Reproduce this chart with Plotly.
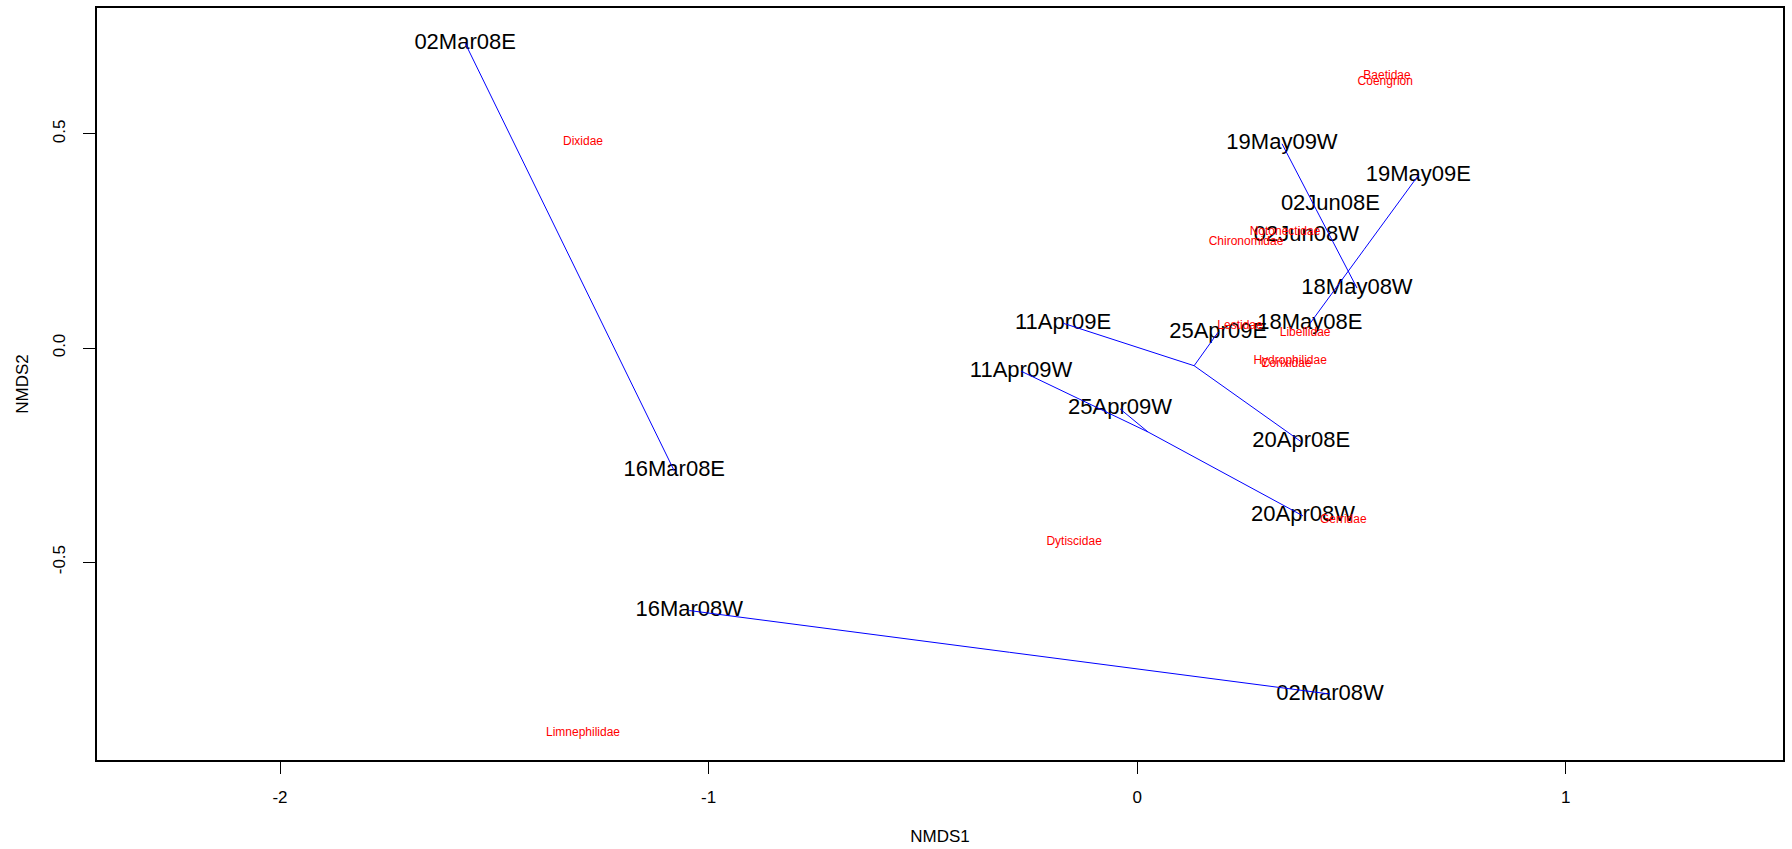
import plotly.graph_objects as go

# NMDS site scores (sampling dates, E/W sites)
site_names = ["02Mar08E", "16Mar08E", "16Mar08W", "02Mar08W",
              "11Apr09E", "25Apr09E", "20Apr08E",
              "11Apr09W", "25Apr09W", "20Apr08W",
              "19May09E", "18May08E", "02Jun08E",
              "19May09W", "18May08W", "02Jun08W"]
site_nmds1 = [-1.568, -1.080, -1.045, 0.450,
              -0.173, 0.189, 0.383,
              -0.271, -0.040, 0.387,
              0.656, 0.403, 0.451,
              0.338, 0.513, 0.395]
site_nmds2 = [0.712, -0.287, -0.613, -0.808,
              0.058, 0.037, -0.219,
              -0.054, -0.142, -0.392,
              0.403, 0.057, 0.335,
              0.477, 0.140, 0.262]
site_group = ["MarE", "MarE", "MarW", "MarW",
              "AprE", "AprE", "AprE",
              "AprW", "AprW", "AprW",
              "MayE", "MayE", "JunE",
              "MayW", "MayW", "JunW"]

# NMDS species scores (families)
species_names = ["Baetidae", "Coengrion", "Dixidae", "Notonectidae", "Chironomidae",
                 "Lestidae", "Libellidae", "Hydrophilidae", "Corixidae",
                 "Gerridae", "Dytiscidae", "Limnephilidae"]
species_nmds1 = [0.583, 0.579, -1.293, 0.345, 0.254,
                 0.240, 0.392, 0.357, 0.348,
                 0.481, -0.147, -1.293]
species_nmds2 = [0.635, 0.621, 0.480, 0.270, 0.247,
                 0.051, 0.035, -0.030, -0.037,
                 -0.401, -0.454, -0.898]

x_ticks = [-2, -1, 0, 1]
y_ticks = [-0.5, 0.0, 0.5]
y_tick_text = ["-0.5", "0.0", "0.5"]

FONT = "Liberation Sans, Arial, sans-serif"

# spider segments: each site joined to its group centroid
spider_x, spider_y = [], []
for g in dict.fromkeys(site_group):
    idx = [i for i, s in enumerate(site_group) if s == g]
    if len(idx) < 2:
        continue
    cx = sum(site_nmds1[i] for i in idx) / len(idx)
    cy = sum(site_nmds2[i] for i in idx) / len(idx)
    for i in idx:
        spider_x += [cx, site_nmds1[i], None]
        spider_y += [cy, site_nmds2[i], None]

fig = go.Figure()

fig.add_trace(go.Scatter(
    x=site_nmds1, y=site_nmds2, text=site_names, mode="text",
    textposition="middle center",
    textfont=dict(family=FONT, size=22, color="black"),
    hoverinfo="text", showlegend=False))

fig.add_trace(go.Scatter(
    x=species_nmds1, y=species_nmds2, text=species_names, mode="text",
    textposition="middle center",
    textfont=dict(family=FONT, size=12, color="red"),
    hoverinfo="text", showlegend=False))

fig.add_trace(go.Scatter(
    x=spider_x, y=spider_y, mode="lines",
    line=dict(color="blue", width=1),
    hoverinfo="skip", showlegend=False))

axis_common = dict(
    showgrid=False, zeroline=False,
    showline=True, linecolor="black", linewidth=1.5, mirror=True,
    ticks="outside", ticklen=12, tickcolor="black", tickwidth=1,
    tickfont=dict(family=FONT, size=17, color="black"),
)

fig.update_layout(
    width=1792, height=849,
    margin=dict(l=97, r=9, t=6, b=89),
    paper_bgcolor="white", plot_bgcolor="white",
    xaxis=dict(range=[-2.427, 1.507], tickmode="array", tickvals=x_ticks,
               ticktext=[str(v) for v in x_ticks], ticklabelstandoff=9,
               title=dict(text="NMDS1", standoff=24,
                          font=dict(family=FONT, size=17, color="black")),
               **axis_common),
    yaxis=dict(range=[-0.962, 0.794], tickmode="array", tickvals=y_ticks,
               ticktext=y_tick_text, tickangle=-90, ticklabelstandoff=11,
               title=dict(text="NMDS2", standoff=18,
                          font=dict(family=FONT, size=17, color="black")),
               **axis_common),
)

fig.write_html("out.html")
